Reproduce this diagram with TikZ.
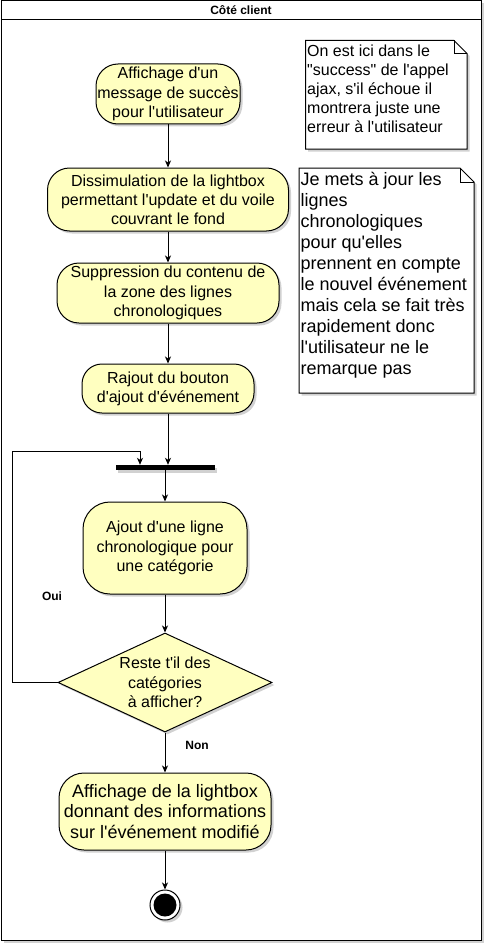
\documentclass[tikz,border=0pt]{standalone}
\usepackage{fontspec}
\newfontfamily\arial{Liberation Sans}
\usetikzlibrary{shapes.geometric,arrows.meta,shadows}
\definecolor{jaune}{HTML}{FFFFC0}

\begin{document}
\begin{tikzpicture}[x=1pt, y=-1pt,
    ombre/.style={drop shadow={shadow xshift=2.5pt, shadow yshift=-2.5pt, opacity=0.18, fill=black}},
    activite/.style={draw, line width=1pt, fill=jaune, rounded corners=22pt, align=center,
        inner sep=0pt, font=\arial\fontsize{16}{19.2}\selectfont, ombre},
    decision/.style={diamond, draw, line width=1pt, fill=jaune, aspect=2.16, align=center,
        inner sep=0pt, font=\arial\fontsize{16}{19.5}\selectfont, ombre},
    remarque/.style={draw, line width=1pt, fill=white, ombre},
    texteremarque/.style={anchor=north west, align=left, inner xsep=1.5pt, inner ysep=4pt},
    etiquette/.style={font=\arial\bfseries\fontsize{12}{14}\selectfont},
    fleche/.style={line width=1pt, -{Stealth[length=7pt, width=6pt, inset=2pt]}}]
    \useasboundingbox (0,0) rectangle (487,947);
    % Cadre
    \draw[line width=1pt, fill=white, ombre] (1,1) rectangle (481,940);
    \draw[line width=1pt] (1,20) -- (481,20);
    \node (titre) [etiquette] at (241,10.5) {Côté client};
    % Remarques
    \draw[remarque] (305.5,40.5) -- (454,40.5) -- (467,53.5) -- (467,149) -- (305.5,149) -- cycle;
    \draw[line width=1pt] (454,40.5) |- (467,53.5);
    \node (remarque1) [texteremarque, font=\arial\fontsize{16}{19}\selectfont] at (305.5,40.5)
        {On est ici dans le\\"success" de l'appel\\ajax, s'il échoue il\\montrera juste une\\erreur à l'utilisateur};
    \draw[remarque] (299,168) -- (460,168) -- (474,182) -- (474,393) -- (299,393) -- cycle;
    \draw[line width=1pt] (460,168) |- (474,182);
    \node (remarque2) [texteremarque, font=\arial\fontsize{18}{21}\selectfont] at (299,168)
        {Je mets à jour les\\lignes\\chronologiques\\pour qu'elles\\prennent en compte\\le nouvel événement\\mais cela se fait très\\rapidement donc\\l'utilisateur ne le\\remarque pas};
    % Activites
    \node (affichage) [activite, minimum width=144pt, minimum height=60pt] at (168,94)
        {Affichage d'un\\message de succès\\pour l'utilisateur};
    \node (dissimulation) [activite, minimum width=241pt, minimum height=63pt] at (168,199.5)
        {Dissimulation de la lightbox\\permettant l'update et du voile\\couvrant le fond};
    \node (suppression) [activite, minimum width=222pt, minimum height=60pt] at (168,293)
        {Suppression du contenu de\\la zone des lignes\\chronologiques};
    \node (rajout) [activite, minimum width=172pt, minimum height=49pt, rounded corners=20pt] at (168,388.5)
        {Rajout du bouton\\d'ajout d'événement};
    % Barre de synchronisation
    \node (barre) [fill=black, minimum width=99pt, minimum height=5pt, inner sep=0pt, ombre] at (165,467.5) {};
    \node (ajout) [activite, minimum width=164pt, minimum height=92pt, rounded corners=27pt] at (165,548)
        {Ajout d'une ligne\\chronologique pour\\une catégorie};
    \node (choix) [decision, minimum width=214pt, minimum height=99pt] at (165,682.5)
        {Reste t'il des\\catégories\\à afficher?};
    \node (resultat) [activite, minimum width=212pt, minimum height=77pt, rounded corners=25pt,
        font=\arial\fontsize{18}{20.5}\selectfont] at (165,811.5)
        {Affichage de la lightbox\\donnant des informations\\sur l'événement modifié};
    % Fin
    \node (fin) [circle, draw, line width=1pt, fill=white, minimum size=30pt, inner sep=0pt, ombre] at (165,905) {};
    \fill (fin.center) circle (11.5);
    % Liens
    \draw[fleche] (affichage) -- (dissimulation);
    \draw[fleche] (dissimulation) -- (suppression);
    \draw[fleche] (suppression) -- (rajout);
    \draw[fleche] (rajout.south) -- (rajout.south |- barre.north);
    \draw[fleche] (barre) -- (ajout);
    \draw[fleche] (ajout) -- (choix);
    \coordinate (retour) at (12,451);
    \draw[fleche] (choix.west) -| (retour) -| ([xshift=-25pt]barre.north);
    \node (oui) [etiquette] at (52,596) {Oui};
    \draw[fleche] (choix.south) -- (resultat.north);
    \node (non) [etiquette] at (197,745) {Non};
    \draw[fleche] (resultat) -- (fin);
\end{tikzpicture}
\end{document}
